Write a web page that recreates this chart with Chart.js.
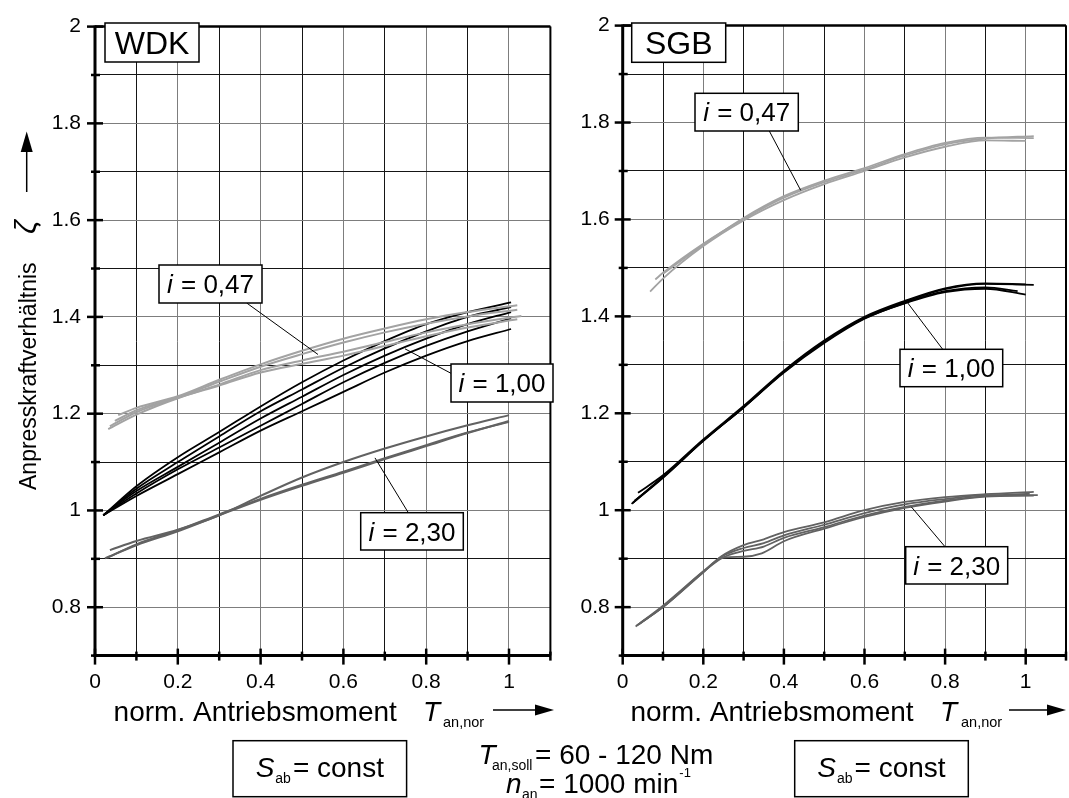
<!DOCTYPE html>
<html><head><meta charset="utf-8">
<script src="https://cdn.jsdelivr.net/npm/chart.js@4.4.1/dist/chart.umd.min.js"></script>
<style>
html,body{margin:0;padding:0;width:1069px;height:798px;overflow:hidden;background:#fff;}
canvas{position:absolute;left:0;top:0;}
</style></head><body>
<canvas id="cL" width="1069" height="798"></canvas>
<canvas id="cR" width="1080" height="798"></canvas>
<script>
// ---------- tick values / labels ----------
const xTickValues = [0,0.1,0.2,0.3,0.4,0.5,0.6,0.7,0.8,0.9,1.0,1.1];
const xTickLabels = ['0','','0.2','','0.4','','0.6','','0.8','','1',''];
const yTickValues = [0.7,0.8,0.9,1.0,1.1,1.2,1.3,1.4,1.5,1.6,1.7,1.8,1.9,2.0];
const yTickLabels = ['','0.8','','1','','1.2','','1.4','','1.6','','1.8','','2'];

// ---------- WDK (left panel) ----------
// i = 0,47
const wdk047aX = [0.056,0.1,0.2,0.3,0.4,0.5,0.6,0.7,0.8,0.9,1.02];
const wdk047aY = [1.197,1.212,1.236,1.27,1.302,1.33,1.355,1.376,1.395,1.41,1.424];
const wdk047bX = [0.048,0.1,0.2,0.3,0.4,0.5,0.6,0.7,0.8,0.9,1.02];
const wdk047bY = [1.185,1.207,1.234,1.266,1.297,1.323,1.347,1.368,1.386,1.401,1.415];
const wdk047cX = [0.036,0.1,0.2,0.3,0.4,0.5,0.6,0.7,0.8,0.9,1.03];
const wdk047cY = [1.174,1.203,1.233,1.26,1.29,1.31,1.328,1.348,1.368,1.385,1.402];
const wdk047dX = [0.032,0.1,0.2,0.3,0.4,0.5,0.6,0.7,0.8,0.9,1.02];
const wdk047dY = [1.168,1.198,1.232,1.258,1.285,1.303,1.32,1.34,1.36,1.378,1.395];
// i = 1,00
const wdk100X  = [0.02,0.1,0.2,0.3,0.4,0.5,0.6,0.7,0.8,0.9,1.005];
const wdk100aY = [0.99,1.05,1.11,1.162,1.215,1.265,1.31,1.35,1.385,1.41,1.43];
const wdk100bY = [0.99,1.045,1.10,1.153,1.205,1.25,1.295,1.335,1.37,1.40,1.42];
const wdk100cY = [0.99,1.04,1.09,1.14,1.19,1.235,1.28,1.32,1.355,1.385,1.41];
const wdk100dY = [0.99,1.035,1.085,1.13,1.175,1.22,1.265,1.305,1.34,1.37,1.397];
const wdk100eY = [0.99,1.03,1.075,1.12,1.165,1.205,1.245,1.285,1.32,1.35,1.375];
// i = 2,30
const wdk230aX = [0.036,0.1,0.2,0.3,0.4,0.5,0.6,0.7,0.8,0.9,1.0];
const wdk230aY = [0.918,0.937,0.96,0.99,1.03,1.068,1.10,1.128,1.153,1.176,1.197];
const wdk230bX = [0.024,0.1,0.2,0.3,0.4,0.5,0.6,0.7,0.8,0.9,1.0];
const wdk230bY = [0.901,0.928,0.957,0.99,1.022,1.051,1.078,1.106,1.133,1.16,1.185];
const wdk230cX = [0.03,0.1,0.2,0.3,0.4,0.5,0.6,0.7,0.8,0.9,1.0];
const wdk230cY = [0.902,0.93,0.959,0.992,1.024,1.053,1.08,1.108,1.135,1.161,1.183];

// ---------- SGB (right panel) ----------
// i = 0,47
const sgb047aX = [0.068,0.1,0.2,0.3,0.4,0.5,0.6,0.7,0.8,0.9,1.0];
const sgb047aY = [1.451,1.478,1.545,1.598,1.64,1.673,1.70,1.728,1.75,1.763,1.762];
const sgb047bX = [0.081,0.1,0.2,0.3,0.4,0.5,0.6,0.7,0.8,0.9,1.02];
const sgb047bY = [1.476,1.49,1.55,1.601,1.645,1.677,1.703,1.732,1.755,1.767,1.772];
const sgb047cX = [0.1,0.2,0.3,0.4,0.5,0.6,0.7,0.8,0.9,1.02];
const sgb047cY = [1.488,1.548,1.603,1.648,1.68,1.706,1.735,1.758,1.769,1.768];
// i = 1,00
const sgb100aX = [0.022,0.1,0.2,0.3,0.4,0.5,0.6,0.7,0.8,0.9,1.02];
const sgb100aY = [1.013,1.067,1.143,1.213,1.285,1.347,1.397,1.43,1.456,1.467,1.465];
const sgb100bX = [0.038,0.1,0.2,0.3,0.4,0.5,0.6,0.7,0.8,0.9,1.0];
const sgb100bY = [1.036,1.072,1.146,1.215,1.288,1.35,1.399,1.432,1.458,1.468,1.466];
const sgb100cX = [0.025,0.1,0.2,0.3,0.4,0.5,0.6,0.7,0.8,0.9,0.98];
const sgb100cY = [1.015,1.069,1.144,1.212,1.284,1.345,1.395,1.428,1.452,1.46,1.452];
const sgb100dX = [0.03,0.1,0.2,0.3,0.4,0.5,0.6,0.7,0.8,0.9,1.0];
const sgb100dY = [1.02,1.068,1.143,1.212,1.286,1.348,1.396,1.427,1.45,1.457,1.445];
// i = 2,30
const sgb230aX = [0.032,0.1,0.2,0.245,0.3,0.35,0.4,0.5,0.6,0.7,0.8,0.9,1.02];
const sgb230aY = [0.76,0.80,0.872,0.905,0.928,0.94,0.955,0.975,1.0,1.017,1.027,1.033,1.038];
const sgb230bX = [0.04,0.1,0.2,0.245,0.3,0.35,0.4,0.5,0.6,0.7,0.8,0.9,1.03];
const sgb230bY = [0.765,0.803,0.874,0.904,0.922,0.932,0.948,0.97,0.994,1.012,1.023,1.031,1.031];
const sgb230cX = [0.045,0.1,0.2,0.25,0.3,0.35,0.4,0.5,0.6,0.7,0.8,0.9,1.01];
const sgb230cY = [0.768,0.801,0.873,0.903,0.916,0.925,0.943,0.965,0.989,1.007,1.02,1.029,1.034];
const sgb230dX = [0.035,0.1,0.2,0.25,0.3,0.345,0.4,0.5,0.6,0.7,0.8,0.9,1.02];
const sgb230dY = [0.762,0.80,0.872,0.902,0.904,0.911,0.936,0.962,0.986,1.005,1.018,1.028,1.03];

// ---------- styling ----------
const FONT = '"Liberation Sans", Arial, Helvetica, sans-serif';
const C047 = '#a3a3a3', C100 = '#000000', C230 = '#626262';
Chart.defaults.font.family = FONT;

function series(xs, ys, color, w) {
  return { data: xs.map((x, i) => ({ x: x, y: ys[i] })), borderColor: color, borderWidth: w,
           pointRadius: 0, fill: false, cubicInterpolationMode: 'monotone', clip: 3 };
}
function gridColor(labels) {
  return ctx => (labels[ctx.index] !== '' ? '#7d7d7d' : '#151515');
}
function makeScales(yWidth, yPad) {
  return {
    x: { type: 'linear', min: 0, max: 1.1,
      afterBuildTicks: s => { s.ticks = xTickValues.map(v => ({ value: v })); },
      afterFit: s => { s.height = 798 - 655.6; },
      ticks: { callback: (v, i) => xTickLabels[i], font: { size: 21 }, color: '#000', padding: 14,
               maxRotation: 0, autoSkip: false },
      grid: { color: gridColor(xTickLabels), lineWidth: 1, drawTicks: false },
      border: { display: false } },
    y: { type: 'linear', min: 0.7, max: 2.0,
      afterBuildTicks: s => { s.ticks = yTickValues.map(v => ({ value: v })); },
      afterFit: s => { s.width = yWidth; },
      ticks: { callback: (v, i) => yTickLabels[i], font: { size: 21 }, color: '#000', padding: yPad,
               autoSkip: false },
      grid: { color: gridColor(yTickLabels), lineWidth: 1, drawTicks: false },
      border: { display: false } }
  };
}
function seg(ctx, x1, y1, x2, y2, w) {
  ctx.lineWidth = w; ctx.beginPath(); ctx.moveTo(x1, y1); ctx.lineTo(x2, y2); ctx.stroke();
}
function fontOf(p) { return (p.italic ? 'italic ' : '') + p.size + 'px ' + FONT; }
function richWidth(ctx, parts) {
  let w = 0; parts.forEach(p => { ctx.font = fontOf(p); w += ctx.measureText(p.t).width + (p.gap || 0); }); return w;
}
function drawRich(ctx, parts, x, base) {
  ctx.textAlign = 'left'; ctx.textBaseline = 'alphabetic'; ctx.fillStyle = '#000';
  parts.forEach(p => { ctx.font = fontOf(p); ctx.fillText(p.t, x, base + (p.dy || 0)); x += ctx.measureText(p.t).width + (p.gap || 0); });
  return x;
}
function arrowRight(ctx, x1, x2, y) {
  ctx.strokeStyle = '#000'; seg(ctx, x1, y, x2 - 16, y, 1.5);
  ctx.fillStyle = '#000'; ctx.beginPath(); ctx.moveTo(x2 - 19, y - 5.5); ctx.lineTo(x2, y); ctx.lineTo(x2 - 19, y + 5.5); ctx.closePath(); ctx.fill();
}

const framePlugin = {
  id: 'frameTicks',
  afterDatasetsDraw(chart) {
    const { ctx, chartArea: a, scales: { x, y } } = chart;
    ctx.save(); ctx.strokeStyle = '#000'; ctx.lineCap = 'butt';
    seg(ctx, a.left, a.top, a.right, a.top, 2.5);
    seg(ctx, a.right, a.top, a.right, a.bottom, 2);
    seg(ctx, a.left, a.top - 1.2, a.left, a.bottom + 1.5, 3);
    seg(ctx, a.left - 1.5, a.bottom, a.right, a.bottom, 3);
    yTickValues.forEach((v, i) => {
      const py = y.getPixelForValue(v), major = yTickLabels[i] !== '';
      seg(ctx, a.left - (major ? 8 : 4), py, a.left + (major ? 8 : 5), py, 2.5);
    });
    xTickValues.forEach((v, i) => {
      const px = x.getPixelForValue(v), major = xTickLabels[i] !== '';
      seg(ctx, px, a.bottom - (major ? 7 : 4), px, a.bottom + (major ? 9 : 5), 2.5);
    });
    ctx.restore();
  }
};

function drawBox(ctx, b) {
  ctx.fillStyle = '#fff'; ctx.fillRect(b.x, b.y, b.w, b.h);
  ctx.strokeStyle = '#000'; ctx.lineWidth = 1.5; ctx.strokeRect(b.x, b.y, b.w, b.h);
  if (!b.parts.length) return;
  const w = richWidth(ctx, b.parts);
  const size = Math.max.apply(null, b.parts.map(p => p.size));
  drawRich(ctx, b.parts, b.x + (b.w - w) / 2, b.y + b.h / 2 + size * 0.716 / 2);
}
function notesPlugin(id, notes, extra) {
  return {
    id: id,
    afterDraw(chart) {
      const { ctx, scales: { x, y } } = chart;
      ctx.save();
      notes.forEach(n => {
        if (n.leader) {
          ctx.strokeStyle = '#000';
          seg(ctx, n.leader[0], n.leader[1], x.getPixelForValue(n.target[0]), y.getPixelForValue(n.target[1]), 1);
        }
      });
      notes.forEach(n => drawBox(ctx, n));
      if (extra) extra(ctx);
      ctx.restore();
    }
  };
}
const lbl = (s) => [{ t: 'i', italic: true, size: 26, gap: 1 }, { t: ' = ' + s, size: 26 }];

const leftNotes = [
  { x: 105, y: 23, w: 94, h: 39, parts: [{ t: 'WDK', size: 32 }] },
  { x: 159, y: 265, w: 103, h: 38, parts: lbl('0,47'), leader: [246.7, 303], target: [0.5386, 1.3224] },
  { x: 451, y: 364, w: 102, h: 38, parts: lbl('1,00'), leader: [451, 373.3], target: [0.7488, 1.334] },
  { x: 360.7, y: 512.7, w: 102.6, h: 37.3, parts: lbl('2,30'), leader: [408.3, 512.7], target: [0.6763, 1.1086] }
];
const rightNotes = [
  { x: 631.7, y: 23, w: 94, h: 39.3, parts: [{ t: 'SGB', size: 32 }] },
  { x: 695, y: 93.3, w: 103.3, h: 37.7, parts: lbl('0,47'), leader: [769.3, 131], target: [0.4418, 1.6599] },
  { x: 900, y: 349.3, w: 102.7, h: 37.4, parts: lbl('1,00'), leader: [942.7, 349.3], target: [0.7043, 1.431] },
  { x: 905.7, y: 546.7, w: 102, h: 37.3, parts: lbl('2,30'), leader: [945, 546.7], target: [0.7164, 1.0067] }
];

function constBox(ctx, bx) {
  drawBox(ctx, { x: bx, y: 740.7, w: 173.6, h: 56, parts: [] });
  const parts = [{ t: 'S', italic: true, size: 28, gap: 1 }, { t: 'ab', size: 14, dy: 6, gap: 2 }, { t: '= const', size: 28 }];
  const w = richWidth(ctx, parts);
  drawRich(ctx, parts, bx + (173.6 - w) / 2, 777);
}

function leftExtra(ctx) {
  // y-axis title (rotated)
  ctx.save(); ctx.translate(35.5, 490); ctx.rotate(-Math.PI / 2);
  ctx.fillStyle = '#000'; ctx.textAlign = 'left'; ctx.textBaseline = 'alphabetic';
  ctx.font = '23px ' + FONT; ctx.fillText('Anpresskraftverhältnis', 0, 0);
  ctx.font = 'italic 30px ' + FONT; ctx.fillText('ζ', 256, 0);
  ctx.restore();
  ctx.strokeStyle = '#000'; seg(ctx, 26.7, 192, 26.7, 150, 1.5);
  ctx.fillStyle = '#000'; ctx.beginPath(); ctx.moveTo(20.7, 152); ctx.lineTo(26.7, 131.5); ctx.lineTo(32.7, 152); ctx.closePath(); ctx.fill();
  // x-axis title
  drawRich(ctx, [{ t: 'norm. Antriebsmoment', size: 28 }], 113.6, 721);
  drawRich(ctx, [{ t: 'T', italic: true, size: 28 }], 423, 721);
  drawRich(ctx, [{ t: 'an,nor', size: 14.5 }], 443, 727);
  arrowRight(ctx, 493, 554, 710);
  constBox(ctx, 233);
  // centre text
  drawRich(ctx, [{ t: 'T', italic: true, size: 28 }], 478.6, 764);
  drawRich(ctx, [{ t: 'an,soll', size: 14 }], 492, 770);
  drawRich(ctx, [{ t: '= 60 - 120 Nm', size: 28 }], 535, 764);
  drawRich(ctx, [{ t: 'n', italic: true, size: 28 }], 506, 793);
  drawRich(ctx, [{ t: 'an', size: 14 }], 522, 799);
  const e = drawRich(ctx, [{ t: '= 1000 min', size: 28 }], 539, 793);
  drawRich(ctx, [{ t: '-1', size: 13 }], e + 1, 777);
}
function rightExtra(ctx) {
  drawRich(ctx, [{ t: 'norm. Antriebsmoment', size: 28 }], 630.4, 721);
  drawRich(ctx, [{ t: 'T', italic: true, size: 28 }], 940, 721);
  drawRich(ctx, [{ t: 'an,nor', size: 14.5 }], 961, 727);
  arrowRight(ctx, 1009, 1066, 710);
  constBox(ctx, 794.7);
}

function baseOptions(padLeft, padRight, yWidth, yPad) {
  return {
    responsive: false, animation: false, devicePixelRatio: 1,
    layout: { padding: { left: padLeft, right: padRight, top: 17.3, bottom: 0 } },
    plugins: { legend: { display: false }, tooltip: { enabled: false } },
    scales: makeScales(yWidth, yPad)
  };
}

new Chart(document.getElementById('cL'), {
  type: 'line',
  data: { datasets: [
    series(wdk047aX, wdk047aY, C047, 2), series(wdk047bX, wdk047bY, C047, 2),
    series(wdk047cX, wdk047cY, C047, 2), series(wdk047dX, wdk047dY, C047, 2),
    series(wdk230aX, wdk230aY, C230, 2), series(wdk230bX, wdk230bY, C230, 2), series(wdk230cX, wdk230cY, C230, 2),
    series(wdk100X, wdk100aY, C100, 1.8), series(wdk100X, wdk100bY, C100, 1.8), series(wdk100X, wdk100cY, C100, 1.8),
    series(wdk100X, wdk100dY, C100, 1.8), series(wdk100X, wdk100eY, C100, 1.8)
  ] },
  options: baseOptions(0, 1069 - 550.4, 95, 14),
  plugins: [framePlugin, notesPlugin('notesL', leftNotes, leftExtra)]
});

new Chart(document.getElementById('cR'), {
  type: 'line',
  data: { datasets: [
    series(sgb047aX, sgb047aY, C047, 1.8), series(sgb047bX, sgb047bY, C047, 1.8), series(sgb047cX, sgb047cY, C047, 1.8),
    series(sgb230aX, sgb230aY, C230, 1.8), series(sgb230bX, sgb230bY, C230, 1.8),
    series(sgb230cX, sgb230cY, C230, 1.8), series(sgb230dX, sgb230dY, C230, 1.8),
    series(sgb100aX, sgb100aY, C100, 1.8), series(sgb100bX, sgb100bY, C100, 1.8),
    series(sgb100cX, sgb100cY, C100, 1.8), series(sgb100dX, sgb100dY, C100, 1.8)
  ] },
  options: baseOptions(540, 1080 - 1076.6, 82.7, 13),
  plugins: [framePlugin, notesPlugin('notesR', rightNotes, rightExtra)]
});
</script></body></html>
